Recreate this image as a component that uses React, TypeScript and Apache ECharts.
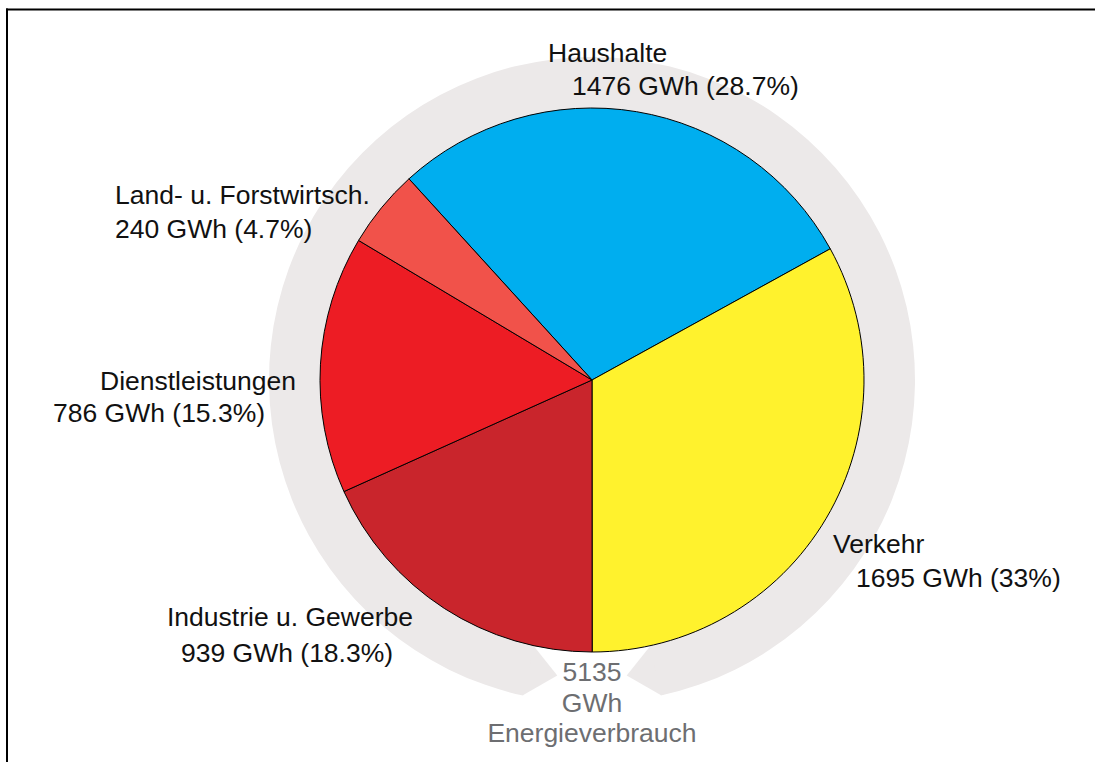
import React, { useEffect, useRef } from "react";
import * as echarts from "echarts";

// ---- data ----
const categories = ["Haushalte", "Verkehr", "Industrie u. Gewerbe", "Dienstleistungen", "Land- u. Forstwirtsch."];
const valuesGWh = [1476, 1695, 939, 786, 240];
const totalGWh = 5135;
const colors = ["#00AEEF", "#FFF22D", "#C9252C", "#ED1C24", "#F1524A"];
const centerLines = [String(totalGWh), "GWh", "Energieverbrauch"];

// ---- layout (label anchor positions: [x1, y1, x2, y2]) ----
const labelPos: number[][] = [
  [548, 53, 572, 86],
  [833, 544, 856, 578],
  [167, 617, 181, 653],
  [100, 381, 53, 413],
  [115, 195, 115, 229],
];

const CX = 592;
const CY = 380;
const R_PIE = 272;
const R_RING_OUT = 323;
const RING_END = 12.3; // deg from bottom
const RING_TIP = 6.7;
const RING_COLOR = "#ECE9E9";
const FONT = "'Liberation Sans', Arial, Helvetica, sans-serif";
const FS = 26.5;

function pt(angleDeg: number, r: number): number[] {
  const a = (angleDeg * Math.PI) / 180;
  return [CX + r * Math.cos(a), CY - r * Math.sin(a)];
}

function pctText(v: number): string {
  let s = ((v / totalGWh) * 100).toFixed(1);
  if (s.endsWith(".0")) s = s.slice(0, -2);
  return s + "%";
}

export default function App() {
  const ref = useRef<HTMLDivElement>(null);
  useEffect(() => {
    document.body.style.margin = "0";
    document.body.style.overflow = "hidden";
    if (!ref.current) return;
    const chart = echarts.init(ref.current, undefined, { renderer: "svg" });
    const rMid = (R_PIE + R_RING_OUT) / 2;
    const leftEnd = 270 - RING_END;
    const rightEnd = 270 + RING_END;
    const leftTip = [pt(leftEnd - 0.6, R_PIE + 0.5), pt(leftEnd, R_PIE + 0.5), pt(270 - RING_TIP, rMid), pt(leftEnd, R_RING_OUT - 0.5), pt(leftEnd - 0.6, R_RING_OUT - 0.5)];
    const rightTip = [pt(rightEnd + 0.6, R_PIE + 0.5), pt(rightEnd, R_PIE + 0.5), pt(270 + RING_TIP, rMid), pt(rightEnd, R_RING_OUT - 0.5), pt(rightEnd + 0.6, R_RING_OUT - 0.5)];

    const texts: any[] = [];
    categories.forEach((c, i) => {
      const p = labelPos[i];
      texts.push({
        type: "text", x: p[0], y: p[1], z: 10,
        style: { text: c, font: `${FS}px ${FONT}`, fill: "#111", textAlign: "left", textVerticalAlign: "middle" },
      });
      texts.push({
        type: "text", x: p[2], y: p[3], z: 10,
        style: { text: `${valuesGWh[i]} GWh (${pctText(valuesGWh[i])})`, font: `${FS}px ${FONT}`, fill: "#111", textAlign: "left", textVerticalAlign: "middle" },
      });
    });
    const centerY = [672, 703, 733];
    centerLines.forEach((t, i) => {
      texts.push({
        type: "text", x: CX, y: centerY[i], z: 10,
        style: { text: t, font: `${FS}px ${FONT}`, fill: "#6D6E71", textAlign: "center", textVerticalAlign: "middle" },
      });
    });

    const gapDeg = RING_END * 2;
    chart.setOption({
      animation: false,
      series: [
        {
          type: "pie",
          silent: true,
          center: [CX, CY],
          radius: [R_PIE - 1, R_RING_OUT],
          startAngle: 270 - RING_END,
          clockwise: true,
          z: 1,
          label: { show: false },
          labelLine: { show: false },
          emphasis: { disabled: true },
          itemStyle: { borderWidth: 0 },
          data: [
            { value: 360 - gapDeg, itemStyle: { color: RING_COLOR } },
            { value: gapDeg, itemStyle: { color: "rgba(0,0,0,0)" } },
          ],
        },
        {
          type: "pie",
          center: [CX, CY],
          radius: [0, R_PIE],
          startAngle: 132.3,
          clockwise: true,
          z: 3,
          label: { show: false },
          labelLine: { show: false },
          emphasis: { disabled: true },
          itemStyle: { borderColor: "#000", borderWidth: 1 },
          data: categories.map((c, i) => ({ name: c, value: valuesGWh[i], itemStyle: { color: colors[i] } })),
        },
      ],
      graphic: [
        { type: "polygon", z: 0, shape: { points: leftTip }, style: { fill: RING_COLOR } },
        { type: "polygon", z: 0, shape: { points: rightTip }, style: { fill: RING_COLOR } },
        { type: "line", shape: { x1: 7, y1: 8.5, x2: 7, y2: 780 }, style: { stroke: "#000", lineWidth: 2 } },
        { type: "rect", shape: { x: 6, y: 8.5, width: 1200, height: 2 }, style: { fill: "#000" } },
        ...texts,
      ],
    });
    return () => chart.dispose();
  }, []);
  return (
    <div style={{ position: "fixed", left: 0, top: 0, width: 1095, height: 762, overflow: "hidden", background: "#fff" }}>
      <div ref={ref} style={{ width: 1200, height: 780 }} />
    </div>
  );
}
